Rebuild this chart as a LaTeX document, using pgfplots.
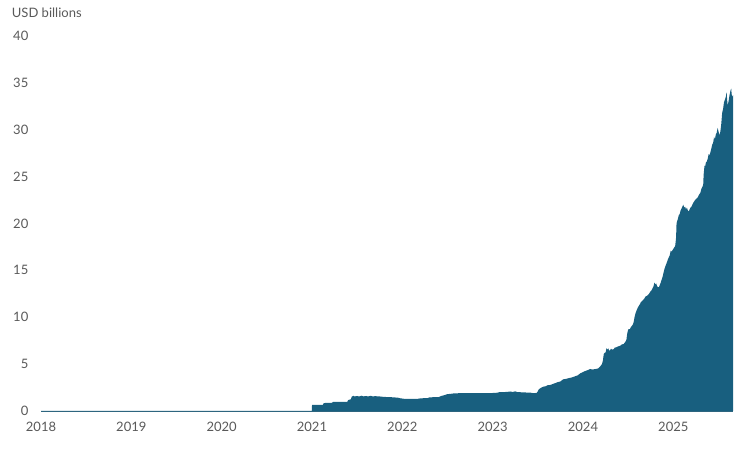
\documentclass[border=0pt]{standalone}
\usepackage{fontspec}
\setmainfont{Lato}
\usepackage{pgfplots}
\pgfplotsset{compat=1.18}
\definecolor{fillblue}{HTML}{185F7F}
\definecolor{labgray}{HTML}{595959}

\begin{document}
\begin{tikzpicture}
\path[use as bounding box] (0,0) rectangle (756bp,450bp);
\begin{axis}[
  at={(41bp,39bp)}, anchor=south west,
  scale only axis, width=692bp, height=375bp,
  xmin=2018, xmax=2025.66, ymin=0, ymax=40,
  axis x line=bottom, axis y line=none,
  x axis line style={-, draw=fillblue!80!gray, line width=0.8bp},
  xtick={2018,2019,...,2025}, ytick={0,5,...,40},
  major tick length=0pt,
  xticklabel style={anchor=north, inner sep=0pt, yshift=-11bp},
  xticklabel={\pgfmathprintnumber[1000 sep={}]{\tick}},
  /pgf/number format/assume math mode=true,
  tick label style={font=\fontsize{13bp}{15bp}\selectfont, text=labgray},
  clip=false,
]
% y tick labels set by hand, the y axis line being hidden
\pgfplotsinvokeforeach{0,5,...,40}{
  \node[anchor=east, inner sep=0pt, font=\fontsize{13bp}{15bp}\selectfont, text=labgray]
    at (axis cs:2018,#1) [xshift=-12.5bp] {#1};
}
\addplot[fill=fillblue, draw=none] coordinates {
(2018.000,0) (2020.998,0) (2021.000,0.64) (2021.12,0.64) (2021.13,0.85)
(2021.22,0.87) (2021.23,0.96) (2021.39,0.98) (2021.40,1.17) (2021.43,1.25)
(2021.44,1.53) (2021.46,1.62) (2021.47,1.55) (2021.50,1.60) (2021.52,1.55)
(2021.55,1.63) (2021.57,1.56) (2021.60,1.60) (2021.62,1.55) (2021.65,1.62)
(2021.67,1.56) (2021.70,1.58) (2021.75,1.55) (2021.80,1.50) (2021.88,1.47)
(2021.95,1.42) (2021.98,1.35) (2022.02,1.30) (2022.10,1.28) (2022.17,1.30)
(2022.20,1.35) (2022.28,1.38) (2022.30,1.46) (2022.40,1.48) (2022.43,1.60)
(2022.47,1.70) (2022.49,1.78) (2022.55,1.85) (2022.58,1.89) (2022.70,1.90)
(2022.85,1.90) (2023.00,1.92) (2023.05,1.95) (2023.07,2.00) (2023.15,2.03)
(2023.20,2.08) (2023.22,2.02) (2023.25,2.10) (2023.27,2.02) (2023.35,1.98)
(2023.42,1.95) (2023.46,1.89) (2023.49,1.95) (2023.51,2.30) (2023.53,2.45)
(2023.56,2.60) (2023.58,2.62) (2023.61,2.75) (2023.64,2.78) (2023.67,2.90)
(2023.70,3.00) (2023.72,3.08) (2023.75,3.15) (2023.78,3.38) (2023.81,3.42)
(2023.84,3.50) (2023.87,3.56) (2023.90,3.66) (2023.94,3.80) (2023.97,4.02)
(2024.00,4.15) (2024.02,4.25) (2024.05,4.35) (2024.08,4.48) (2024.10,4.42)
(2024.12,4.45) (2024.15,4.50) (2024.17,4.55) (2024.19,4.75) (2024.21,5.01)
(2024.22,5.40) (2024.23,6.10) (2024.24,6.20) (2024.25,6.25) (2024.26,6.70)
(2024.27,6.55) (2024.28,6.68) (2024.29,6.40) (2024.30,6.50) (2024.31,6.65)
(2024.32,6.55) (2024.34,6.60) (2024.35,6.75) (2024.37,6.80) (2024.39,6.90)
(2024.41,6.95) (2024.43,7.10) (2024.45,7.15) (2024.47,7.40) (2024.48,7.60)
(2024.49,8.30) (2024.50,8.70) (2024.52,8.75) (2024.53,8.95) (2024.55,9.20)
(2024.56,9.45) (2024.57,10.0) (2024.58,10.4) (2024.60,10.9) (2024.61,11.1)
(2024.63,11.4) (2024.64,11.6) (2024.66,11.8) (2024.68,12.0) (2024.69,12.2)
(2024.71,12.3) (2024.73,12.5) (2024.75,12.8) (2024.76,12.9) (2024.78,13.3)
(2024.79,13.7) (2024.80,13.5) (2024.81,13.6) (2024.82,13.3) (2024.83,13.2)
(2024.84,13.2) (2024.86,13.7) (2024.88,14.3) (2024.89,14.7) (2024.90,15.1)
(2024.91,15.4) (2024.93,15.9) (2024.94,16.2) (2024.96,16.6) (2024.97,17.1)
(2024.98,17.0) (2025.00,17.3) (2025.02,17.6) (2025.03,18.5) (2025.035,20.0)
(2025.04,20.2) (2025.05,20.5) (2025.06,20.9) (2025.07,21.0) (2025.08,21.4)
(2025.09,21.6) (2025.10,21.8) (2025.11,22.0) (2025.12,21.7) (2025.13,21.8)
(2025.14,21.5) (2025.15,21.7) (2025.16,21.4) (2025.17,21.3) (2025.18,21.5)
(2025.19,21.7) (2025.20,21.8) (2025.22,22.2) (2025.24,22.5) (2025.25,22.6)
(2025.27,22.8) (2025.28,23.0) (2025.30,23.3) (2025.31,23.7) (2025.33,24.1)
(2025.335,25.2) (2025.345,26.2) (2025.35,26.0) (2025.36,26.5) (2025.37,26.6)
(2025.38,26.9) (2025.39,27.4) (2025.40,27.3) (2025.41,27.6) (2025.42,28.0)
(2025.43,28.4) (2025.44,28.6) (2025.45,29.2) (2025.46,29.0) (2025.47,29.5)
(2025.48,29.7) (2025.49,30.2) (2025.50,29.8) (2025.51,29.4) (2025.52,29.8)
(2025.53,30.6) (2025.54,31.8) (2025.55,32.2) (2025.56,32.9) (2025.57,33.2)
(2025.58,33.5) (2025.59,34.0) (2025.595,33.2) (2025.60,32.6) (2025.61,33.0)
(2025.62,33.6) (2025.63,34.1) (2025.64,34.4) (2025.645,33.8) (2025.65,33.5)
(2025.66,33.7)
} \closedcycle;
\end{axis}
\node[anchor=north west, inner sep=0pt, font=\fontsize{13bp}{15bp}\selectfont, text=labgray]
  at (11.7bp,442bp) {USD billions};
\end{tikzpicture}
\end{document}
